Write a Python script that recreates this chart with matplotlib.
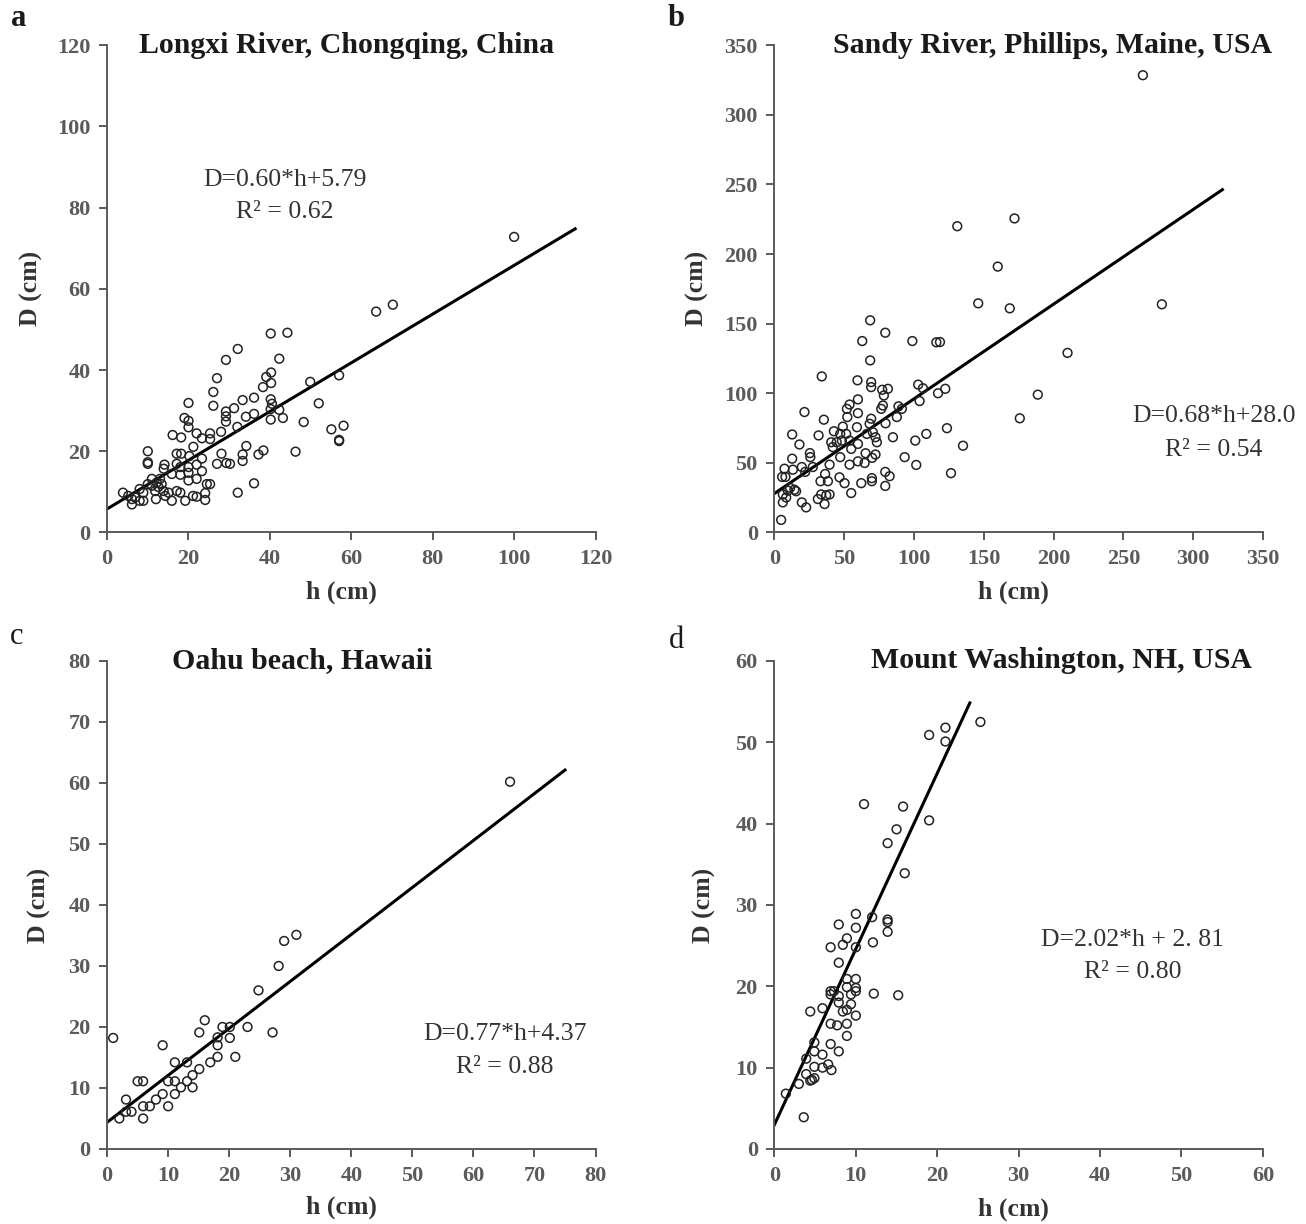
import matplotlib.pyplot as plt
import numpy as np

plt.rcParams['font.family'] = ['Liberation Serif', 'DejaVu Serif']

# ---- panel a: Longxi River
a_h = [70.2, 66.1, 40.2, 44.3, 32.1, 29.2, 42.3, 40.3, 39.1, 40.3, 38.3, 27.0, 26.1, 49.9, 57.0,
       52.0, 20.0, 26.1, 33.3, 36.1, 40.2, 40.5, 31.2, 29.2, 29.2, 29.2, 34.1, 36.1, 40.2, 40.2,
       42.3, 43.2, 48.3, 55.1, 58.1, 57.0, 57.0, 46.3, 19.0, 20.0, 20.0, 16.1, 18.2, 22.0, 25.3,
       23.3, 25.3, 21.2, 28.0, 32.0, 34.2, 37.2, 38.4, 28.1, 33.3, 33.3, 27.0, 29.3, 30.2, 10.0,
       10.0, 10.0, 17.1, 18.2, 17.1, 14.1, 20.2, 23.3, 18.0, 20.0, 22.0, 15.9, 18.0, 20.0, 23.3,
       20.0, 22.0, 24.5, 25.3, 11.0, 12.2, 13.4, 10.0, 8.0, 8.9, 11.8, 13.9, 15.1, 17.1, 18.0,
       21.1, 22.0, 24.1, 24.1, 32.1, 36.1, 3.9, 5.2, 6.1, 6.1, 6.9, 8.0, 8.9, 12.0, 15.9,
       19.2, 14.3, 12.6, 11.0, 13.0, 13.9, 100.0]
a_D = [56.1, 54.4, 49.0, 49.2, 45.2, 42.5, 42.8, 39.4, 38.3, 36.8, 35.8, 38.0, 34.6, 37.1, 38.7,
       31.8, 31.9, 31.2, 32.6, 33.2, 32.8, 31.7, 30.6, 29.8, 28.6, 27.3, 28.5, 29.2, 30.4, 27.8,
       30.2, 28.2, 27.2, 25.4, 26.3, 22.8, 22.5, 19.9, 28.2, 27.5, 25.9, 24.0, 23.4, 24.4, 24.4,
       23.2, 23.0, 21.1, 24.8, 26.0, 21.3, 19.2, 20.2, 19.4, 19.2, 17.6, 16.9, 17.1, 16.9, 20.0,
       17.3, 16.9, 19.4, 19.4, 16.9, 16.7, 18.8, 18.2, 16.1, 16.1, 16.7, 14.4, 14.2, 14.7, 15.1,
       12.8, 13.2, 11.9, 11.9, 13.2, 12.3, 11.9, 11.9, 10.7, 9.8, 10.2, 10.2, 9.8, 10.2, 9.8,
       9.0, 8.8, 9.7, 8.0, 9.8, 12.1, 9.8, 9.0, 8.2, 6.9, 8.6, 7.8, 7.8, 8.2, 7.8,
       7.8, 9.0, 11.2, 11.5, 13.2, 15.7, 72.8]

# ---- panel b: Sandy River
b_h = [68.6, 79.4, 62.9, 98.8, 118.6, 68.6, 33.9, 59.5, 69.3, 69.3, 77.2, 81.3, 78.4, 103.0,
       106.4, 122.4, 117.2, 104.0, 59.8, 53.8, 51.9, 77.7, 76.5, 88.9, 91.3, 21.5, 35.4, 52.2,
       59.8, 87.7, 69.3, 68.2, 79.6, 59.1, 49.0, 42.6, 47.1, 40.7, 41.8, 51.4, 53.8, 55.0, 59.8,
       66.2, 70.5, 72.4, 73.4, 84.9, 65.3, 72.4, 70.0, 93.3, 64.6, 59.8, 53.8, 47.1, 39.5, 36.3,
       38.3, 33.0, 46.6, 50.2, 55.0, 62.2, 69.8, 69.8, 79.4, 82.5, 79.4, 101.6, 100.9, 108.8,
       123.6, 126.5, 135.1, 31.6, 25.4, 25.7, 17.9, 12.7, 12.7, 7.2, 7.9, 5.5, 13.2, 19.6, 22.0,
       27.5, 33.5, 37.1, 39.5, 31.1, 35.9, 19.6, 22.7, 14.3, 9.6, 6.0, 6.0, 8.4, 4.8, 11.2, 15.5,
       48.3, 44.6, 264.0, 131.0, 172.0, 160.0, 146.0, 168.6, 277.6, 210.0, 188.7, 175.8, 116.0]
b_D = [152.4, 143.5, 137.5, 137.5, 136.8, 123.6, 112.1, 109.3, 108.0, 104.4, 102.5, 103.2, 98.4,
       106.2, 103.6, 103.2, 100.0, 94.4, 95.6, 91.9, 88.8, 91.2, 88.8, 90.6, 88.8, 86.5, 81.0,
       82.9, 85.7, 82.9, 81.7, 78.1, 78.4, 75.6, 76.0, 72.7, 70.8, 64.8, 61.3, 70.8, 66.0, 60.0,
       63.6, 70.8, 72.0, 68.4, 64.8, 68.4, 56.9, 56.0, 53.6, 54.1, 49.9, 51.1, 48.7, 54.1, 48.7,
       42.0, 36.8, 36.8, 39.6, 35.4, 28.3, 35.4, 39.0, 36.8, 43.5, 40.4, 33.4, 48.5, 66.0, 70.8,
       74.9, 42.6, 62.3, 69.7, 57.0, 54.1, 63.2, 70.4, 53.0, 45.8, 39.9, 39.9, 45.1, 47.0, 43.5,
       47.0, 27.3, 26.7, 27.3, 24.0, 20.4, 21.6, 18.0, 30.7, 30.0, 27.3, 21.6, 25.1, 9.0, 32.0,
       29.6, 66.0, 64.8, 328.5, 220.0, 225.6, 191.0, 164.6, 161.0, 163.9, 129.0, 99.0, 82.0, 136.6]

# ---- panel c: Oahu beach
c_h = [28.1, 24.8, 1.0, 16.0, 15.1, 18.9, 20.1, 18.1, 20.1, 23.0, 27.1, 9.1, 18.1, 18.1, 16.9,
       21.0, 11.1, 13.1, 15.1, 14.0, 5.0, 5.9, 10.0, 11.1, 13.1, 12.1, 14.0, 9.1, 11.1, 8.0,
       7.0, 5.9, 10.0, 3.1, 3.1, 4.0, 2.0, 5.9, 31.0, 29.0, 66.0]
c_D = [30.0, 26.0, 18.2, 21.1, 19.1, 20.0, 20.0, 18.3, 18.2, 20.0, 19.1, 17.0, 17.0, 15.1, 14.2,
       15.1, 14.2, 14.2, 13.1, 12.1, 11.1, 11.1, 11.1, 11.1, 11.1, 10.1, 10.1, 9.0, 9.0, 8.1,
       7.0, 7.0, 7.0, 8.1, 6.1, 6.1, 5.0, 5.0, 35.1, 34.1, 60.2]

# ---- panel d: Mount Washington
d_h = [25.3, 21.0, 19.0, 21.0, 11.0, 15.8, 19.0, 15.0, 13.9, 16.0, 10.0, 12.0, 13.9, 13.9, 13.9,
       7.9, 10.0, 8.9, 8.4, 10.0, 6.9, 12.1, 7.9, 8.9, 10.0, 8.9, 10.0, 10.0, 6.9, 7.3, 6.9, 7.9,
       9.4, 12.2, 15.2, 7.9, 9.4, 8.4, 8.9, 5.9, 4.4, 10.0, 6.9, 7.7, 8.9, 8.9, 6.9, 7.9, 4.9,
       4.9, 5.9, 3.9, 4.9, 5.9, 6.6, 7.0, 4.9, 4.6, 3.9, 4.4, 3.0, 1.4, 3.6]
d_D = [52.5, 51.8, 50.9, 50.1, 42.4, 42.1, 40.4, 39.3, 37.6, 33.9, 28.9, 28.5, 28.2, 27.9, 26.7,
       27.6, 27.2, 25.9, 25.1, 24.8, 24.8, 25.4, 22.9, 20.9, 20.9, 19.9, 19.8, 19.4, 19.4, 19.4,
       19.0, 18.8, 19.0, 19.1, 18.9, 18.0, 17.8, 16.9, 17.1, 17.3, 16.9, 16.4, 15.4, 15.2, 15.4,
       13.9, 12.9, 12.0, 13.1, 12.0, 11.6, 11.1, 10.1, 10.0, 10.4, 9.7, 8.7, 8.5, 9.2, 8.4,
       8.0, 6.8, 3.9]

# regression lines as drawn (slope, intercept, last h)
fits = [(0.60, 5.79, 115), (0.68, 28.0, 321), (0.77, 4.37, 75), (2.16, 3.0, 24.0)]
titles = ['Longxi River, Chongqing, China', 'Sandy River, Phillips, Maine, USA',
          'Oahu beach, Hawaii', 'Mount Washington, NH, USA']
eqs = ['D=0.60*h+5.79', 'D=0.68*h+28.0', 'D=0.77*h+4.37', 'D=2.02*h + 2. 81']
r2s = ['R² = 0.62', 'R² = 0.54', 'R² = 0.88', 'R² = 0.80']
letters = ['a', 'b', 'c', 'd']
xlims = [120, 350, 80, 60]
xsteps = [20, 50, 10, 10]
ylims = [120, 350, 80, 60]
ysteps = [20, 50, 10, 10]

fig = plt.figure(figsize=(13.06, 12.24), dpi=100)
boxes = [[0.082, 0.565, 0.374, 0.398], [0.593, 0.565, 0.374, 0.398],
         [0.082, 0.0613, 0.374, 0.3987], [0.593, 0.0613, 0.374, 0.3987]]
title_x = [0.49, 0.57, 0.40, 0.587]
eq_pos = [(0.364, 0.723, 0.657), (0.90, 0.238, 0.170), (0.814, 0.236, 0.168), (0.734, 0.428, 0.363)]
ylab_x = [-0.131, -0.135, -0.115, -0.119]
xlab_pos = [(0.48, -0.0985), (0.49, -0.0985), (0.48, -0.096), (0.49, -0.10)]
letter_pos = [(0.014, 0.985, 'bold'), (0.518, 0.985, 'bold'), (0.013, 0.48, 'normal'), (0.518, 0.477, 'normal')]
data = [(a_h, a_D), (b_h, b_D), (c_h, c_D), (d_h, d_D)]
gray = '#5a5a5a'

for i in range(4):
    ax = fig.add_axes(boxes[i])
    h, D = data[i]
    ax.scatter(h, D, s=40, facecolors='none', edgecolors='#222222', linewidths=1.1, zorder=3)
    k, b, hmax = fits[i]
    xs = np.array([0, hmax])
    ax.plot(xs, k * xs + b, color='black', lw=2.2, zorder=2)
    ax.set_xlim(0, xlims[i])
    ax.set_ylim(0, ylims[i])
    ax.set_xticks(np.arange(0, xlims[i] + 1, xsteps[i]))
    ax.set_yticks(np.arange(0, ylims[i] + 1, ysteps[i]))
    for s in ['top', 'right']:
        ax.spines[s].set_visible(False)
    for s in ['left', 'bottom']:
        ax.spines[s].set_color(gray)
        ax.spines[s].set_linewidth(1.4)
    ax.tick_params(direction='out', length=6, width=1.4, color=gray, labelcolor=gray,
                   labelsize=16, pad=6)
    for lab in ax.get_xticklabels() + ax.get_yticklabels():
        lab.set_fontweight('bold')
    ax.set_xlabel('h (cm)', fontsize=18.5, fontweight='bold', color='#333333')
    ax.set_ylabel('D (cm)', fontsize=18.5, fontweight='bold', color='#333333')
    ax.xaxis.set_label_coords(*xlab_pos[i])
    ax.yaxis.set_label_coords(ylab_x[i], 0.5)
    ax.text(title_x[i], 1.0, titles[i], transform=ax.transAxes, ha='center', va='center',
            fontsize=21.5, fontweight='bold', color='#1a1a1a')
    ex, ey1, ey2 = eq_pos[i]
    ax.text(ex, ey1, eqs[i], transform=ax.transAxes, ha='center', va='center', fontsize=18.5,
            color='#333333', clip_on=False)
    ax.text(ex, ey2, r2s[i], transform=ax.transAxes, ha='center', va='center', fontsize=18.5,
            color='#333333', clip_on=False)
    lx, ly, lw = letter_pos[i]
    fig.text(lx, ly, letters[i], ha='center', va='center', fontsize=22, fontweight=lw, color='#1a1a1a')

fig.savefig('out.png', dpi=100)
